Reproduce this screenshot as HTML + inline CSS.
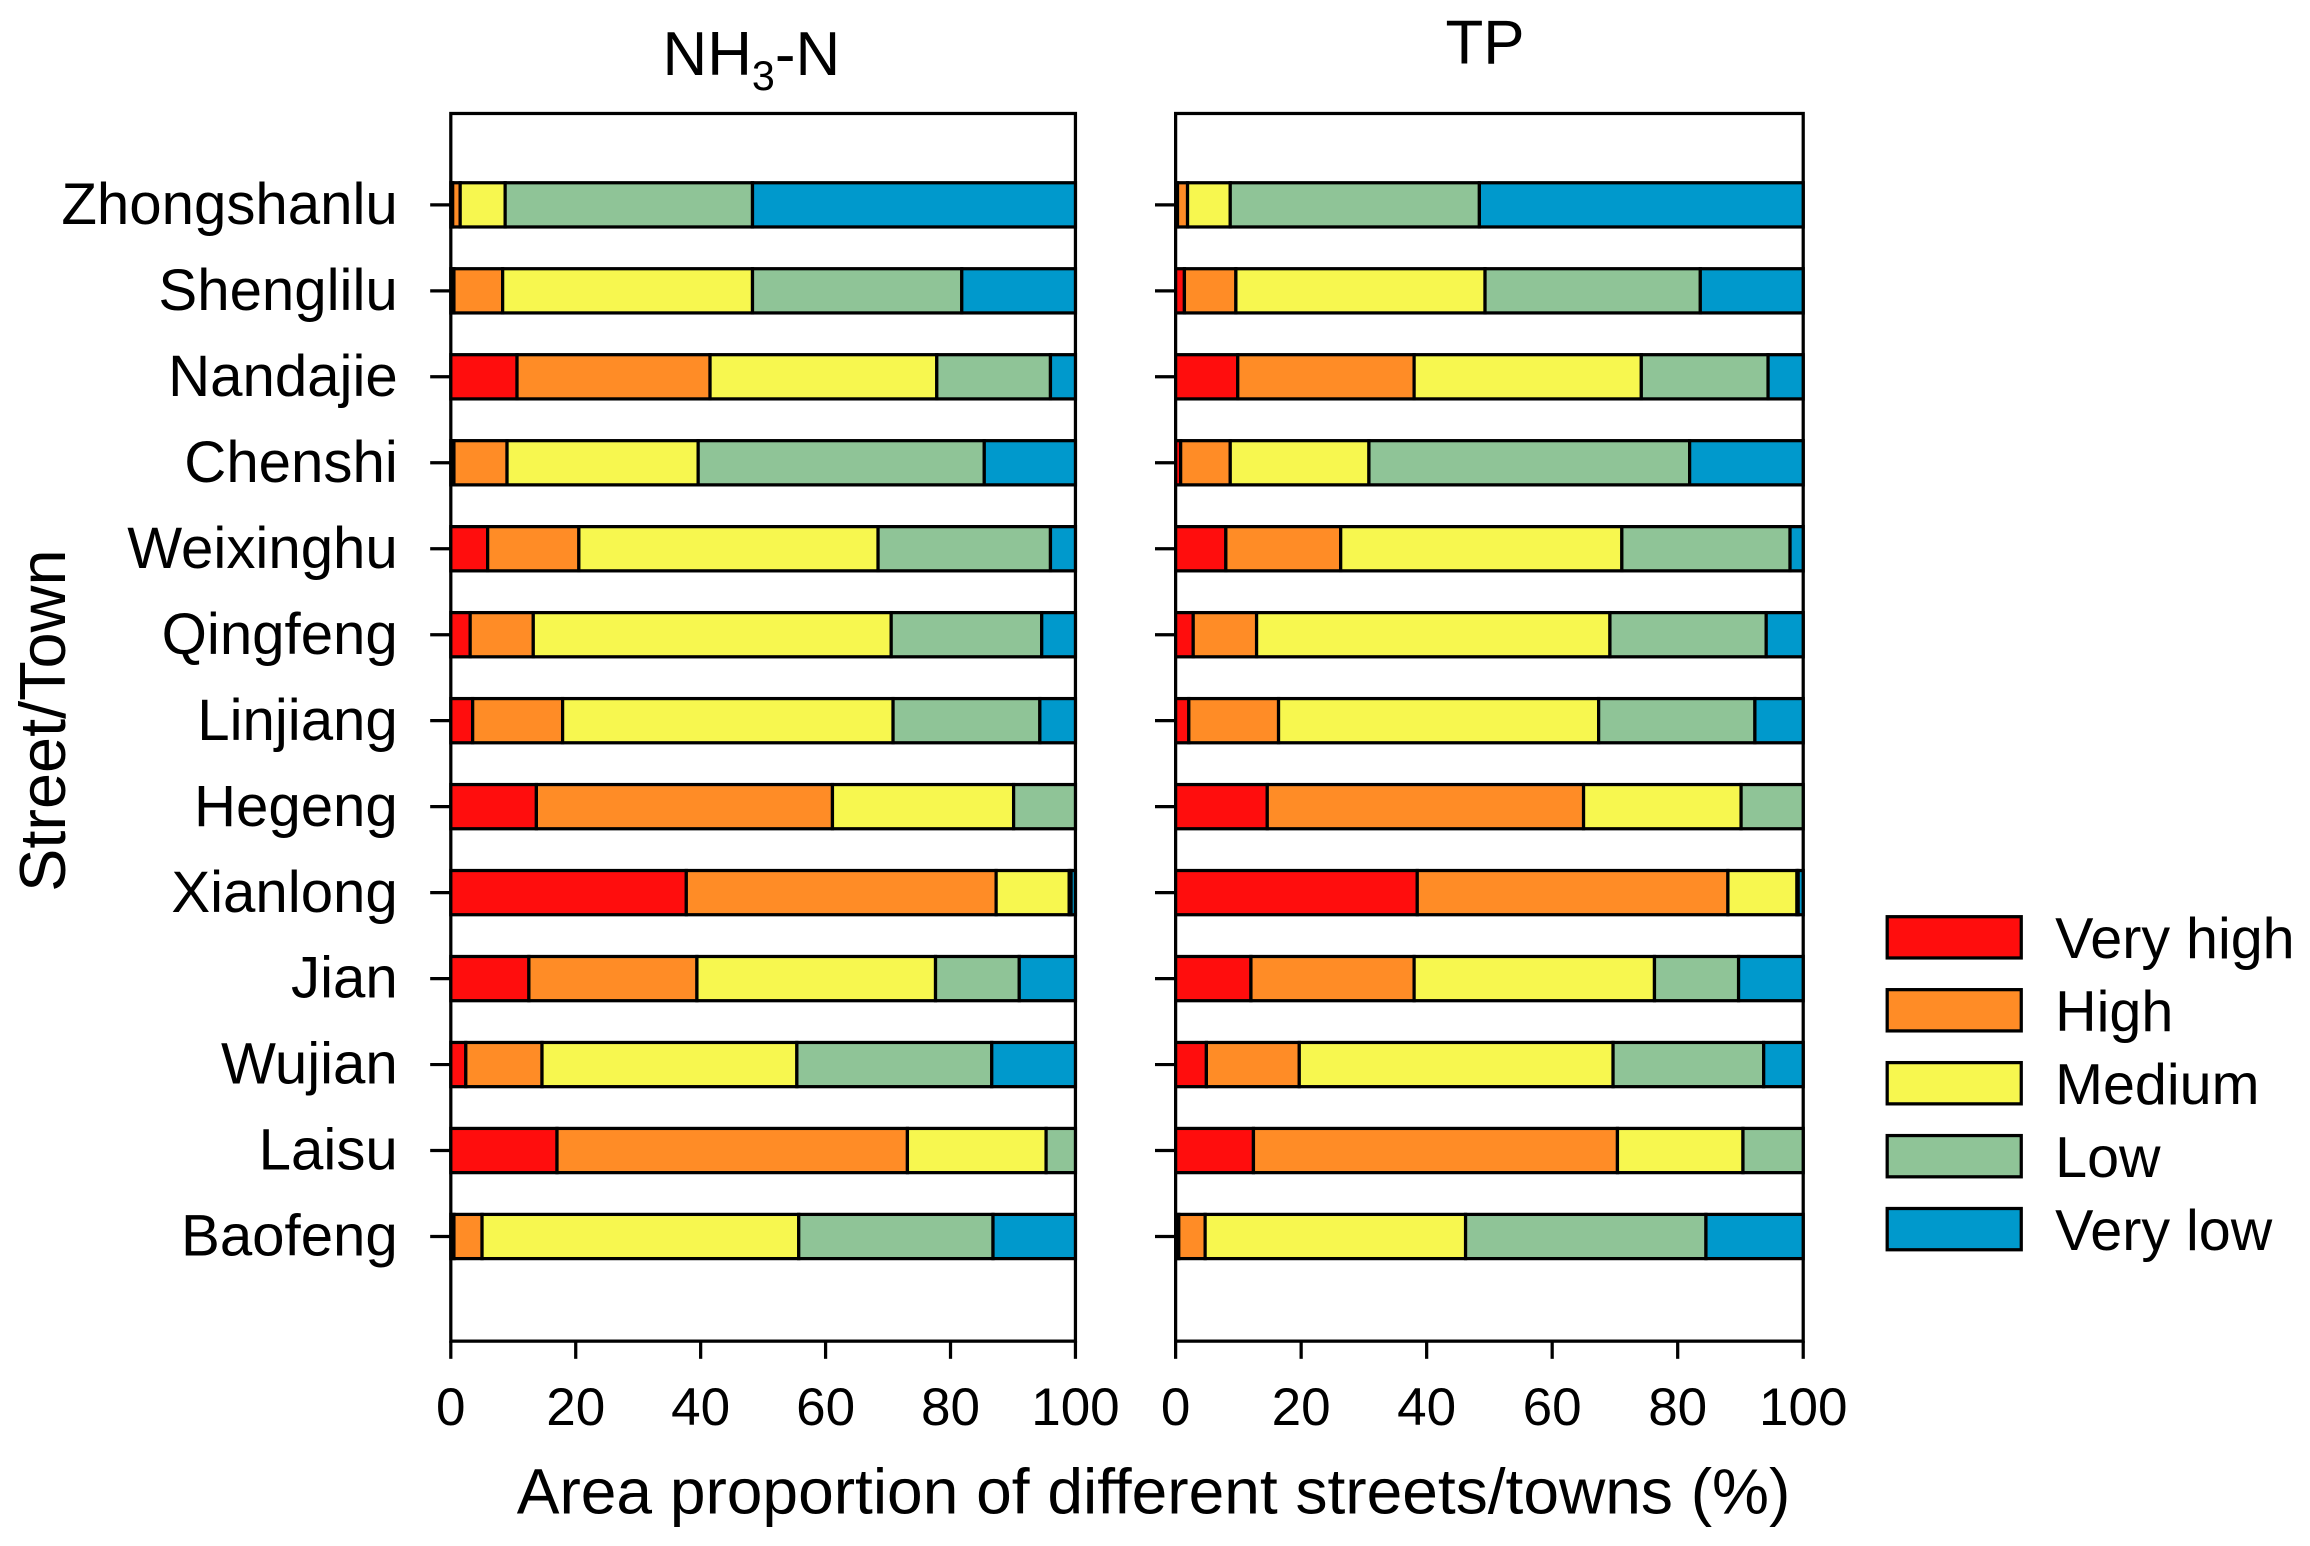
<!DOCTYPE html>
<html><head><meta charset="utf-8"><style>
html,body{margin:0;padding:0;background:#fff;}
svg{display:block;}
text{font-family:"Liberation Sans",Arial,sans-serif;fill:#000;}
</style></head><body>
<svg id="chart" width="2310" height="1546" viewBox="0 0 1568 1049" preserveAspectRatio="none" xmlns="http://www.w3.org/2000/svg"></svg>
<script>
const categories=["Zhongshanlu","Shenglilu","Nandajie","Chenshi","Weixinghu","Qingfeng","Linjiang","Hegeng","Xianlong","Jian","Wujian","Laisu","Baofeng"];
const seriesNames=["Very high","High","Medium","Low","Very low"];
const xTicks=[0,20,40,60,80,100];
// NH3-N cumulative boundaries (end of each class)
const nhVeryHigh=[0.3,0.5,10.6,0.5,5.9,3.1,3.5,13.7,37.7,12.5,2.4,17,0.5];
const nhHigh=[1.5,8.3,41.5,9,20.5,13.2,17.9,61.1,87.3,39.4,14.6,73.1,5];
const nhMedium=[8.7,48.3,77.8,39.6,68.4,70.5,70.8,90.1,99,77.6,55.4,95.3,55.7];
const nhLow=[48.3,81.8,96,85.4,96,94.6,94.3,100,99.3,91,86.6,100,86.8];
// TP cumulative boundaries
const tpVeryHigh=[0.3,1.4,9.9,0.8,8,2.8,2.1,14.6,38.5,12,4.9,12.4,0.5];
const tpHigh=[1.9,9.6,38,8.7,26.3,12.9,16.4,65,88,38,19.7,70.4,4.7];
const tpMedium=[8.7,49.3,74.2,30.8,71.1,69.2,67.4,90.1,99,76.3,69.7,90.4,46.2];
const tpLow=[48.4,83.6,94.4,81.9,97.9,94.1,92.3,100,99.2,89.7,93.7,100,84.5];
const colors=["#ff0d0d","#ff8c26","#f7f74f","#8fc497","#0099cc"];
const NS="http://www.w3.org/2000/svg";
const svg=document.getElementById("chart");
function mk(tag,attrs,parent){const e=document.createElementNS(NS,tag);for(const k in attrs)e.setAttribute(k,attrs[k]);(parent||svg).appendChild(e);return e;}
const yTop=77,yBot=910;
function yRow(i){return 139+i*(839-139)/12;}
function panel(x0,x1,key,bounds,titleY){
  const g=mk("g",{});
  
  
  const xs=v=>x0+(x1-x0)*v/100;
  mk("rect",{x:x0,y:yTop,width:x1-x0,height:yBot-yTop,fill:"#fff",stroke:"#000","stroke-width":2.2},g);
  categories.forEach((c,i)=>{
    let prev=0;
    const ends=[bounds[0][i],bounds[1][i],bounds[2][i],bounds[3][i],100];
    ends.forEach((e,s)=>{
      if(e-prev>0.01){
        const r=mk("rect",{x:xs(prev),y:yRow(i)-15,width:xs(e)-xs(prev),height:30,fill:colors[s],stroke:"#000","stroke-width":2.2},g);
        
        
      }
      prev=Math.max(prev,e);
    });
    mk("line",{x1:x0-14,x2:x0,y1:yRow(i),y2:yRow(i),stroke:"#000","stroke-width":2.2},g);
  });
  xTicks.forEach(t=>{
    mk("line",{x1:xs(t),x2:xs(t),y1:yBot,y2:yBot+12,stroke:"#000","stroke-width":2.2},g);
    const tx=mk("text",{x:xs(t),y:967,"font-size":36,"text-anchor":"middle"},g);
    tx.textContent=t;
    
    
  });
  const tt=mk("text",{x:(x0+x1)/2,y:titleY,"font-size":42,"text-anchor":"middle"},g);
  
  
  return tt;
}
const t1=panel(306,730,"nh3n",[nhVeryHigh,nhHigh,nhMedium,nhLow],51);
t1.innerHTML='NH<tspan font-size="28" dy="10">3</tspan><tspan dy="-10">-N</tspan>';
t1.setAttribute('x',510);
const t2=panel(798,1224,"tp",[tpVeryHigh,tpHigh,tpMedium,tpLow],43);
t2.textContent="TP";
t2.setAttribute('x',1008);
categories.forEach((c,i)=>{
  const t=mk("text",{x:270,y:yRow(i)+13,"font-size":39.5,"text-anchor":"end"});
  t.textContent=c;
  
  
});
const yt=mk("text",{x:0,y:0,"font-size":44,"text-anchor":"middle",transform:"translate(44,489) rotate(-90)"});
yt.textContent="Street/Town";


const xt=mk("text",{x:783,y:1027,"font-size":43.5,"text-anchor":"middle"});
xt.textContent="Area proportion of different streets/towns (%)";


seriesNames.forEach((n,s)=>{
  const y=622+s*49.5;
  const g=mk("g",{});
  
  
  mk("rect",{x:1281,y:y,width:91,height:28,fill:colors[s],stroke:"#000","stroke-width":2.2},g);
  const t=mk("text",{x:1395,y:y+28,"font-size":39},g);
  t.textContent=n;
});
</script>
</body></html>
